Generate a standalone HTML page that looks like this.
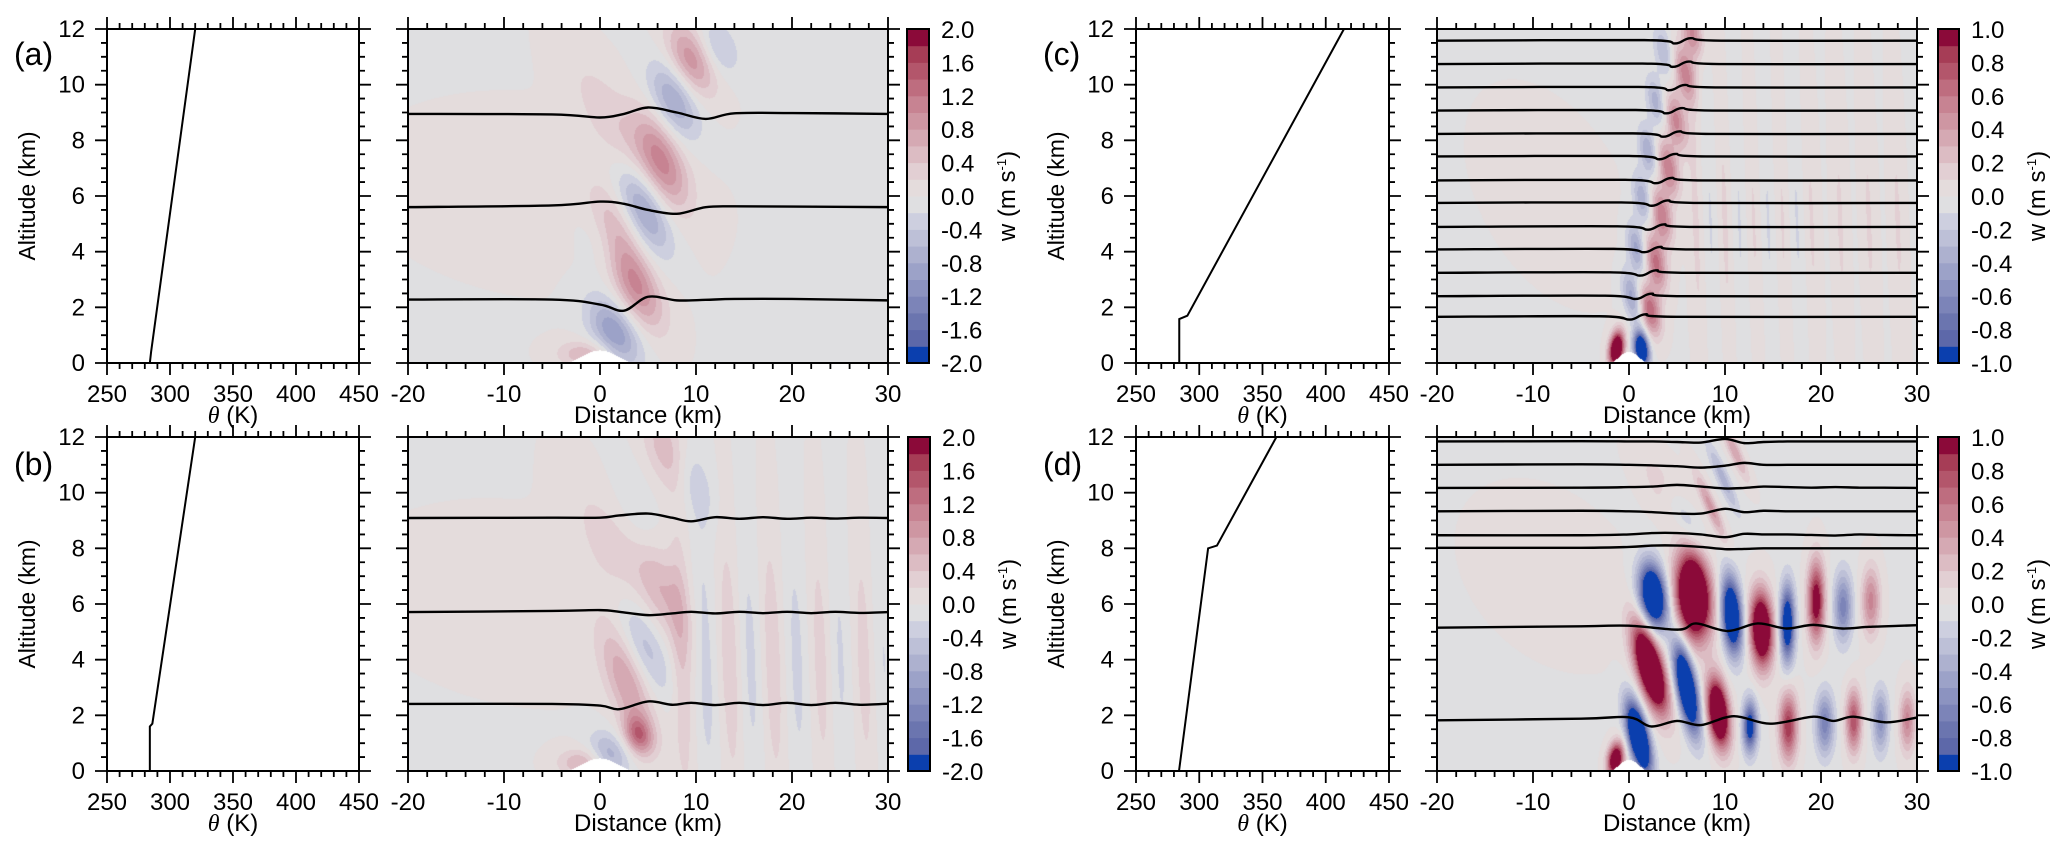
<!DOCTYPE html>
<html><head><meta charset="utf-8">
<style>
html,body{margin:0;padding:0;background:#fff;}
#wrap{position:relative;width:2067px;height:861px;overflow:hidden;background:#fff;}
canvas{position:absolute;}
svg{position:absolute;left:0;top:0;}
text{font-family:"Liberation Sans",sans-serif;fill:#000;}
</style></head>
<body>
<div id="wrap">
<canvas id="cv-a" width="480" height="334" style="left:408px;top:29px"></canvas>
<canvas id="cv-b" width="480" height="334" style="left:408px;top:437px"></canvas>
<canvas id="cv-c" width="480" height="334" style="left:1437px;top:29px"></canvas>
<canvas id="cv-d" width="480" height="334" style="left:1437px;top:437px"></canvas>
<svg id="svg" width="2067" height="861" xmlns="http://www.w3.org/2000/svg"></svg>
</div>
<script>
// ---------------- data ----------------
const levelColors = ["#0b3fae","#5d68a9","#6b75af","#7c84b8","#8c93c0","#9ca2c8","#adb1cf","#bdc0d7","#cdcfdf","#dfdfe1",
                     "#e4dcdc","#e2cfd3","#dcbcc3","#d5a9b3","#ce96a2","#c78392","#be6d7f","#b3566b","#a63d56","#8b0a39"];
const cbarLabelsAB = ["2.0","1.6","1.2","0.8","0.4","0.0","-0.4","-0.8","-1.2","-1.6","-2.0"];
const cbarLabelsCD = ["1.0","0.8","0.6","0.4","0.2","0.0","-0.2","-0.4","-0.6","-0.8","-1.0"];
const thetaTicks = [250,300,350,400,450];
const altTicks = [0,2,4,6,8,10,12];
const distTicks = [-20,-10,0,10,20,30];

const thetaA = [284,285,320], altA = [0,0.4,12];
const thetaB = [284,284,286,320], altB = [0,1.6,1.7,12];
const thetaC = [284.2,284.2,290.6,414.4], altC = [0,1.58,1.7,12];
const thetaD = [284,307,314,361], altD = [0,8.0,8.1,12];

const aLobeX=[3.5,1.5,-1.5,4.6,6.4,7.7,9.5,12.2,1.5,1.0,1.5,-6];
const aLobeZ=[2.9,1.1,0.3,5.5,7.3,9.45,10.9,11.3,8.5,4.0,5.0,6];
const aLobeA=[1.15,-1.0,0.6,-0.95,1.05,-0.85,1.0,-0.5,0.35,-0.35,0.5,0.05];
const aLobeSx=[0.9,0.9,1.1,0.9,0.9,0.9,0.9,0.8,1.1,0.9,0.9,6];
const aLobeSz=[1.6,1.2,0.5,1.6,1.7,1.4,1.3,1.0,2.5,1.5,1.5,3];
const aLobeT=[-1.1,-1.1,-0.5,-1.0,-0.9,-0.8,-0.8,-0.7,-1.5,-1.0,-1.0,-1];

const bLobeX=[4.0,2.8,1.0,-2.0,4.6,6.0,4.5,7.0,9.5,1.0,8.5,13.5,18,23,27.5,11,15.7,20.5,25,29.5,-8];
const bLobeZ=[1.3,3.2,0.6,0.3,4.5,6.9,8.5,11.5,10.5,8.0,4,4,4,4,4,4,4,4,4,4,6];
const bLobeA=[1.2,0.8,-0.7,0.6,-0.55,0.7,-0.35,0.6,-0.4,0.3,0.4,0.35,0.35,0.3,0.3,-0.28,-0.25,-0.25,-0.22,-0.2,0.05];
const bLobeSx=[0.6,0.9,0.8,1.0,0.9,0.9,0.8,0.9,0.8,1.2,0.45,0.45,0.45,0.45,0.45,0.45,0.45,0.45,0.45,0.45,6];
const bLobeSz=[0.7,2.0,0.8,0.5,1.8,2.0,2.0,1.5,1.5,2.5,5,5,5,5,5,5,5,5,5,5,3];
const bLobeT=[-0.5,-0.9,-0.8,0,-1.0,-0.9,-0.8,-0.8,-0.8,-1.2,-0.1,-0.1,-0.1,-0.1,-0.1,-0.1,-0.1,-0.1,-0.1,-0.1,-1];

const cLobeX=[-1.3,1.3,2.2,2.8,3.4,4.1,4.9,5.8,6.6,0.3,0.8,1.4,2.0,2.8,3.6,7,10,13,16,19,22,25,28,8.5,11.5,14.5,17.5,-8];
const cLobeZ=[0.5,0.5,1.9,3.6,5.3,7.0,8.7,10.4,11.9,2.4,4.1,5.9,7.6,9.4,11.2,5,5,5,5,5,5,5,5,5,5,5,5,6];
const cLobeA=[1.6,-1.6,0.7,0.65,0.6,0.6,0.55,0.55,0.5,-0.45,-0.45,-0.4,-0.4,-0.35,-0.3,0.13,0.13,0.12,0.12,0.12,0.12,0.12,0.12,-0.1,-0.1,-0.1,-0.1,0.03];
const cLobeSx=[0.28,0.28,0.4,0.4,0.4,0.4,0.4,0.4,0.4,0.35,0.35,0.35,0.35,0.35,0.35,0.3,0.3,0.3,0.3,0.3,0.3,0.3,0.3,0.3,0.3,0.3,0.3,3];
const cLobeSz=[0.6,0.6,0.9,1.0,1.0,1.0,1.0,1.0,0.9,0.9,0.9,0.9,0.9,0.9,0.9,6,6,6,6,6,6,6,6,6,6,6,6,4];
const cLobeT=[0.3,-0.3,-0.5,-0.45,-0.45,-0.45,-0.45,-0.5,-0.5,-0.5,-0.45,-0.45,-0.45,-0.45,-0.5,-0.1,-0.1,-0.1,-0.1,-0.1,-0.1,-0.1,-0.1,-0.1,-0.1,-0.1,-0.1,-1];

const dLobeX=[2.5,6.7,10.7,13.8,16.5,19.5,22.3,25.2,2.2,6.0,9.3,12.6,16.6,20.4,23.4,26.2,29.0,1.0,-1.4,8.5,9.8,11.0,6.0,4.0,-8];
const dLobeZ=[6.3,6.3,5.6,5.1,5.3,6.1,5.9,6.1,3.7,3.0,2.1,1.6,1.6,1.7,1.8,1.8,1.8,1.2,0.4,9.5,10.5,11.5,9.0,10.0,7];
const dLobeA=[-1.7,1.9,-1.6,1.6,-1.3,1.1,-0.65,0.55,1.9,-1.8,1.7,-1.1,0.9,-0.65,0.8,-0.55,0.55,-2.0,1.4,0.45,-0.35,0.4,-0.3,0.2,0.04];
const dLobeSx=[1.0,1.3,0.75,0.85,0.55,0.65,0.7,0.7,1.0,0.75,0.8,0.55,0.7,0.7,0.6,0.6,0.6,0.75,0.6,0.5,0.5,0.5,1.0,1.5,6];
const dLobeSz=[1.1,1.5,1.3,1.3,1.3,1.4,1.2,1.2,1.5,1.5,1.2,0.9,1.2,1.1,1.1,1.1,1.1,1.2,0.6,1.2,1.2,1.0,1.2,1.5,3];
const dLobeT=[-0.3,-0.2,-0.2,-0.1,0,0,0,0,-0.7,-0.5,-0.3,0,0,0,0,0,0,-0.6,0.3,-1.2,-1.2,-1.2,-1.5,-1.5,-1];

const aLineX=[-20,-5,0,2.5,5,8,11,14,20,30];
const aLine1=[8.95,8.93,8.82,8.95,9.18,9.0,8.77,8.97,8.98,8.95];
const aLine2=[5.6,5.66,5.8,5.72,5.5,5.36,5.6,5.63,5.62,5.6];
const aLine3=[2.28,2.28,2.1,1.88,2.38,2.25,2.27,2.3,2.3,2.25];

const bLineX=[-20,-5,0,2,5,7.5,9.5,12,14.5,17,19.5,22,24.5,27,30];
const bLine1=[9.09,9.1,9.1,9.18,9.25,9.1,8.97,9.12,9.06,9.12,9.06,9.1,9.07,9.1,9.09];
const bLine2=[5.71,5.75,5.78,5.72,5.6,5.66,5.72,5.66,5.72,5.67,5.72,5.67,5.72,5.68,5.71];
const bLine3=[2.41,2.41,2.35,2.22,2.5,2.38,2.45,2.37,2.45,2.37,2.45,2.37,2.45,2.38,2.42];

const cLineBase=[11.58,10.74,9.9,9.07,8.23,7.42,6.56,5.75,4.89,4.08,3.24,2.4,1.66];
const cLineCross=[5.6,5.4,5.0,4.7,4.4,4.0,3.6,3.2,2.8,2.4,2.0,1.5,0.9];

const dLineX=[-20,-5,0,2.5,5,7.5,10,12,14,16.5,19,21.5,24,26.5,30];
const dLine1=[11.84,11.85,11.84,11.84,11.82,11.8,11.93,11.78,11.82,11.84,11.84,11.84,11.84,11.84,11.84];
const dLine2=[11.0,11.02,11.0,10.98,10.95,10.9,10.97,11.07,11.0,11.0,11.0,11.0,11.0,11.0,11.0];
const dLine3=[10.17,10.18,10.2,10.22,10.28,10.22,10.15,10.17,10.22,10.2,10.18,10.2,10.18,10.18,10.17];
const dLine4=[9.33,9.35,9.33,9.3,9.25,9.25,9.42,9.3,9.35,9.33,9.33,9.33,9.33,9.33,9.33];
const dLine5=[8.47,8.47,8.5,8.55,8.55,8.5,8.4,8.52,8.5,8.5,8.48,8.46,8.5,8.48,8.47];
const dLine6=[8.02,8.02,8.05,8.1,8.1,8.05,7.97,7.98,8.0,8.0,8.0,8.0,8.0,8.0,8.0];
const dLine7X=[-20,-5,0,5.2,7,10.3,13.4,16.4,19.2,22.2,25,28.5,30];
const dLine7=[5.15,5.2,5.22,5.08,5.3,5.03,5.3,5.12,5.25,5.12,5.18,5.22,5.24];
const dLine8X=[-20,-5,0,2.3,5,7.5,10.9,14.7,19.2,21.3,23.4,26.8,30];
const dLine8=[1.82,1.88,1.93,1.6,1.8,1.65,1.97,1.7,1.95,1.8,1.95,1.75,1.92];

// ---------------- drawing ----------------
const NS="http://www.w3.org/2000/svg";
const svg=document.getElementById('svg');
function mk(tag,attrs){const e=document.createElementNS(NS,tag);for(const k in attrs)e.setAttribute(k,attrs[k]);svg.appendChild(e);return e;}

function field(id,X,Z,A,SX,SZ,T,bg,vmax,hillW,hillH,wScale){
  const cv=document.getElementById(id),ctx=cv.getContext('2d');
  const img=ctx.createImageData(480,334);const rgb=levelColors.map(c=>[parseInt(c.substr(1,2),16),parseInt(c.substr(3,2),16),parseInt(c.substr(5,2),16)]);
  for(let py=0;py<334;py++){const z=12-(py+0.5)*12/334;
    for(let px=0;px<480;px++){const x=-20+(px+0.5)*50/480;let w=bg;
      for(let i=0;i<X.length;i++){const dz=z-Z[i];const dx=x-X[i]-T[i]*dz;const s=SX[i]*wScale;const e=dx*dx/(s*s)+dz*dz/(SZ[i]*SZ[i]);if(e<25)w+=A[i]*Math.exp(-e);}
      let col;
      let hz=Math.abs(x)<hillW?hillH*Math.pow(Math.cos(Math.PI*x/(2*hillW)),2):0;
      if(z<hz)col=[255,255,255];else{let k=Math.floor((w/vmax+1)*10);k=Math.max(0,Math.min(19,k));col=rgb[k];}
      const o=(py*480+px)*4;img.data[o]=col[0];img.data[o+1]=col[1];img.data[o+2]=col[2];img.data[o+3]=255;}}
  ctx.putImageData(img,0,0);
}
field('cv-a',aLobeX,aLobeZ,aLobeA,aLobeSx,aLobeSz,aLobeT,-0.01,2,3.8,0.45,2.6);
field('cv-b',bLobeX,bLobeZ,bLobeA,bLobeSx,bLobeSz,bLobeT,-0.01,2,3.8,0.45,2.4);
field('cv-c',cLobeX,cLobeZ,cLobeA,cLobeSx,cLobeSz,cLobeT,-0.01,1,2.1,0.4,2.6);
field('cv-d',dLobeX,dLobeZ,dLobeA,dLobeSx,dLobeSz,dLobeT,-0.01,1,2.1,0.4,1.35);

function frame(name,b,xmin,xmax,xmaj,xminor,ymaj,yminor,xlabels,ylabels,xtitle,ytitle){
  const sx=v=>b.x0+(v-xmin)/(xmax-xmin)*(b.x1-b.x0);
  const sy=v=>b.y1-v/12*(b.y1-b.y0);
  const r=mk('rect',{x:b.x0,y:b.y0,width:b.x1-b.x0,height:b.y1-b.y0,fill:'none',stroke:'#000','stroke-width':2});
  
  
  let d='';
  for(let v=xmin;v<=xmax+1e-6;v+=xminor){const X=sx(v);const L=(Math.abs((v-xmin)/xmaj-Math.round((v-xmin)/xmaj))<1e-6)?12:6;
    d+=`M${X},${b.y1}v${L}M${X},${b.y0}v${-L}`;}
  for(let v=0;v<=12+1e-6;v+=yminor){const Y=sy(v);const L=(Math.abs(v/ymaj-Math.round(v/ymaj))<1e-6)?12:6;
    d+=`M${b.x0},${Y}h${-L}M${b.x1},${Y}h${L}`;}
  const t=mk('path',{d:d,stroke:'#000','stroke-width':1.8,fill:'none'});
  
  
  for(const v of xlabels){const e=mk('text',{x:sx(v),y:b.y1+39,'font-size':24,'text-anchor':'middle'});e.textContent=String(v);
    
    }
  if(ylabels){for(const v of ylabels){const e=mk('text',{x:b.x0-22,y:sy(v)+8,'font-size':24,'text-anchor':'end'});e.textContent=String(v);
    
    }}
  const xt=mk('text',{x:(b.x0+b.x1)/2,y:b.y1+60,'font-size':24,'text-anchor':'middle'});
  if(xtitle==='theta'){const s1=document.createElementNS(NS,'tspan');s1.setAttribute('font-family','Liberation Serif');s1.setAttribute('font-style','italic');s1.textContent='θ';xt.appendChild(s1);xt.appendChild(document.createTextNode(' (K)'));}
  else xt.textContent=xtitle;
  
  
  if(ytitle){const yt=mk('text',{x:0,y:0,'font-size':23,'text-anchor':'middle',transform:`translate(${b.x0-72},${(b.y0+b.y1)/2}) rotate(-90)`});yt.textContent=ytitle;
    
    }
  return {sx,sy};
}
function profile(name,ax,th,al){let d='';for(let i=0;i<th.length;i++)d+=(i?'L':'M')+ax.sx(th[i])+','+ax.sy(al[i]);
  const p=mk('path',{d:d,stroke:'#000','stroke-width':2,fill:'none'});
  
  }
function smooth(ax,xs,zs){const P=xs.map((x,i)=>[ax.sx(x),ax.sy(zs[i])]);let d=`M${P[0][0]},${P[0][1]}`;
  for(let i=0;i<P.length-1;i++){const p0=P[Math.max(0,i-1)],p1=P[i],p2=P[i+1],p3=P[Math.min(P.length-1,i+2)];
    d+=`C${p1[0]+(p2[0]-p0[0])/6},${p1[1]+(p2[1]-p0[1])/6} ${p2[0]-(p3[0]-p1[0])/6},${p2[1]-(p3[1]-p1[1])/6} ${p2[0]},${p2[1]}`;}return d;}
function line(name,ax,xs,zs){const p=mk('path',{d:smooth(ax,xs,zs),stroke:'#000','stroke-width':2.4,fill:'none'});
  
  }
function cbar(name,b,labels){const h=(b.y1-b.y0)/20;
  for(let i=0;i<20;i++){const r=mk('rect',{x:b.x0,y:b.y1-(i+1)*h,width:b.x1-b.x0,height:h+0.5,fill:levelColors[i]});
    
    }
  const f=mk('rect',{x:b.x0,y:b.y0,width:b.x1-b.x0,height:b.y1-b.y0,fill:'none',stroke:'#000','stroke-width':2});
  
  
  labels.forEach((s,i)=>{const e=mk('text',{x:b.x1+12,y:b.y0+i*2*h+9,'font-size':24});e.textContent=s;
    
    });
  const t=mk('text',{x:0,y:0,'font-size':24,'text-anchor':'middle',transform:`translate(${b.x1+86},${(b.y0+b.y1)/2}) rotate(-90)`});
  t.appendChild(document.createTextNode('w (m s'));const sp=document.createElementNS(NS,'tspan');sp.setAttribute('dy','-9');sp.setAttribute('font-size','13');sp.textContent='-1';t.appendChild(sp);
  const sp2=document.createElementNS(NS,'tspan');sp2.setAttribute('dy','9');sp2.textContent=')';t.appendChild(sp2);
  
  }
function plabel(s,x,y){const e=mk('text',{x:x,y:y,'font-size':32});e.textContent=s;
  
  }

const rows=[{y0:29,y1:363},{y0:437,y1:771}];
let ta=frame('theta-a',{x0:107,x1:359,...rows[0]},250,450,50,10,2,0.5,thetaTicks,altTicks,'theta','Altitude (km)');
profile('theta-profile-a',ta,thetaA,altA);
let ca=frame('contour-a',{x0:408,x1:888,...rows[0]},-20,30,10,2,2,0.5,distTicks,null,'Distance (km)',null);
line('streamline-a1',ca,aLineX,aLine1);line('streamline-a2',ca,aLineX,aLine2);line('streamline-a3',ca,aLineX,aLine3);
cbar('colorbar-a',{x0:907,x1:929,...rows[0]},cbarLabelsAB);
plabel('(a)',14,65);

let tb=frame('theta-b',{x0:107,x1:359,...rows[1]},250,450,50,10,2,0.5,thetaTicks,altTicks,'theta','Altitude (km)');
profile('theta-profile-b',tb,thetaB,altB);
let cb=frame('contour-b',{x0:408,x1:888,...rows[1]},-20,30,10,2,2,0.5,distTicks,null,'Distance (km)',null);
line('streamline-b1',cb,bLineX,bLine1);line('streamline-b2',cb,bLineX,bLine2);line('streamline-b3',cb,bLineX,bLine3);
cbar('colorbar-b',{x0:908,x1:930,...rows[1]},cbarLabelsAB);
plabel('(b)',14,475);

let tc=frame('theta-c',{x0:1136,x1:1389,...rows[0]},250,450,50,10,2,0.5,thetaTicks,altTicks,'theta','Altitude (km)');
profile('theta-profile-c',tc,thetaC,altC);
let cc=frame('contour-c',{x0:1437,x1:1917,...rows[0]},-20,30,10,2,2,0.5,distTicks,null,'Distance (km)',null);
cLineBase.forEach((b0,i)=>{const c=cLineCross[i];
  const xs=[-20,c-4,c-0.8,c+0.8,c+4,30];const zs=[b0,b0+0.02,b0-0.1,b0+0.09,b0,b0];
  line('streamline-c'+(i+1),cc,xs,zs);});
cbar('colorbar-c',{x0:1938,x1:1959,...rows[0]},cbarLabelsCD);
plabel('(c)',1043,65);

let td=frame('theta-d',{x0:1136,x1:1389,...rows[1]},250,450,50,10,2,0.5,thetaTicks,altTicks,'theta','Altitude (km)');
profile('theta-profile-d',td,thetaD,altD);
let cd=frame('contour-d',{x0:1437,x1:1917,...rows[1]},-20,30,10,2,2,0.5,distTicks,null,'Distance (km)',null);
[dLine1,dLine2,dLine3,dLine4,dLine5,dLine6].forEach((z,i)=>line('streamline-d'+(i+1),cd,dLineX,z));
line('streamline-d7',cd,dLine7X,dLine7);line('streamline-d8',cd,dLine8X,dLine8);
cbar('colorbar-d',{x0:1938,x1:1959,...rows[1]},cbarLabelsCD);
plabel('(d)',1043,475);
</script>
</body></html>
